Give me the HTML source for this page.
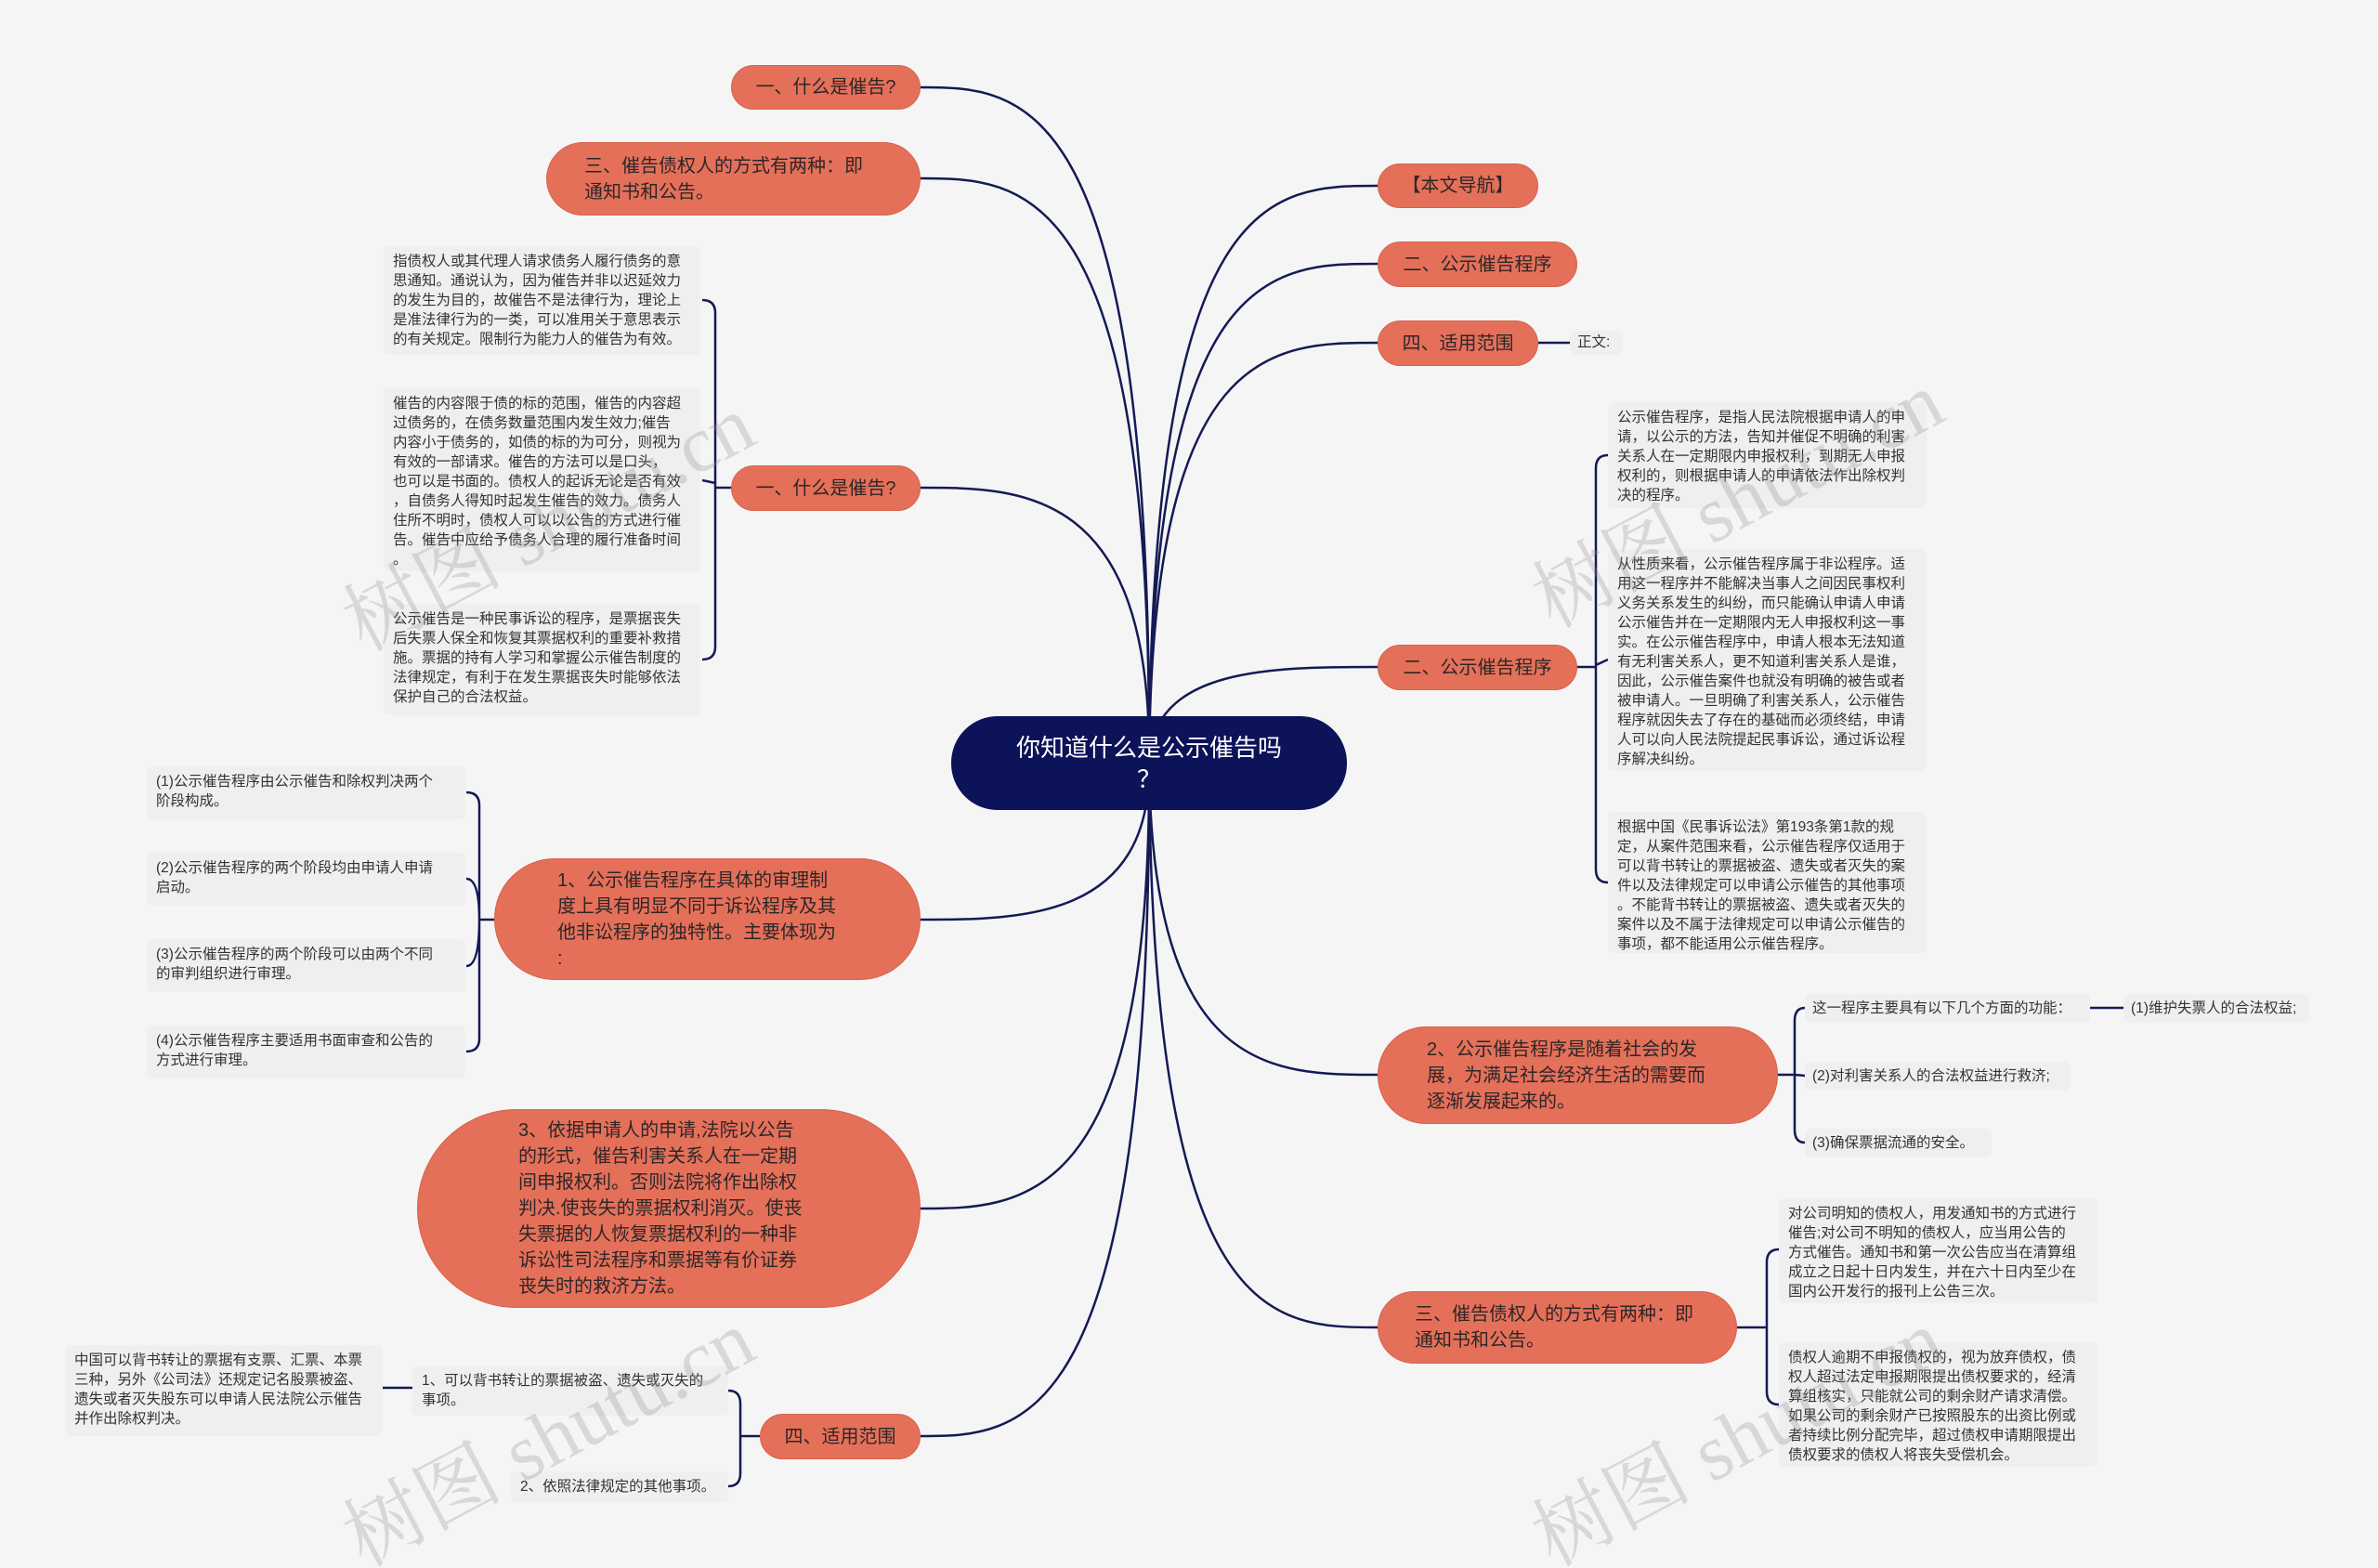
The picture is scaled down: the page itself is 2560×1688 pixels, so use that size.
<!DOCTYPE html>
<html><head><meta charset="utf-8">
<style>
html,body{margin:0;padding:0;width:2560px;height:1688px;overflow:hidden}
body{background:#f5f5f5;position:relative;font-family:"Liberation Sans","Noto Sans CJK SC",sans-serif}
.n{position:absolute;background:#e4705a;color:#2e2626;font-size:20px;line-height:28px;box-sizing:border-box;display:flex;align-items:center;white-space:nowrap;border:1px solid #d8624c}
.c{justify-content:center}
.t{position:absolute;background:#efefef;color:#333;font-size:15.5px;line-height:21px;box-sizing:border-box;padding:6px 10px;border-radius:6px;white-space:nowrap}
.wm{position:absolute;color:rgba(140,140,140,0.28);font-size:86px;font-family:"Liberation Serif","Noto Serif CJK SC",serif;transform:rotate(-28deg);white-space:nowrap;transform-origin:left top}
svg{position:absolute;left:0;top:0}
#wrap{position:absolute;left:0;top:0;width:2560px;height:1688px;overflow:hidden}
</style></head><body><div id="wrap">
<svg width="2560" height="1688" fill="none" stroke="#141a55" stroke-width="2.5">
<path d="M1237 821 C1240 94 1100 94 991 94"/>
<path d="M1237 821 C1240 192 1100 192 991 192"/>
<path d="M1237 821 C1240 525 1100 525 991 525"/>
<path d="M1237 821 C1240 990 1100 990 991 990"/>
<path d="M1237 821 C1240 1301 1100 1301 991 1301"/>
<path d="M1237 821 C1240 1546 1100 1546 991 1546"/>
<path d="M1237 821 C1240 200 1370 200 1483 200"/>
<path d="M1237 821 C1240 284 1370 284 1483 284"/>
<path d="M1237 821 C1240 369 1370 369 1483 369"/>
<path d="M1237 821 C1240 718 1370 718 1483 718"/>
<path d="M1237 821 C1240 1157 1370 1157 1483 1157"/>
<path d="M1237 821 C1240 1429 1370 1429 1483 1429"/>
<path d="M787 525 L770 525 M770 525 L770 337 Q770 323 756 323 M770 525 L770 696 Q770 710 756 710 M770 520 L756 517"/>
<path d="M1698 718 L1718 718 M1718 718 L1718 504 Q1718 490 1731 490 M1718 718 L1718 936 Q1718 950 1731 950 M1718 716 L1731 710"/>
<path d="M532 990 L516 990 M516 990 L516 867 Q516 853 502 853 M516 990 L516 1118 Q516 1132 502 1132 M516 990 Q516 946 502 946 M516 990 Q516 1040 502 1040"/>
<path d="M1914 1157 L1932 1157 M1932 1157 L1932 1099 Q1932 1085 1943 1085 M1932 1157 L1932 1216 Q1932 1230 1943 1230 M1932 1157 L1943 1158"/>
<path d="M2250 1085 L2286 1085"/>
<path d="M1870 1429 L1902 1429 M1902 1429 L1902 1359 Q1902 1345 1915 1345 M1902 1429 L1902 1498 Q1902 1512 1915 1512"/>
<path d="M818 1546 L797 1546 M797 1546 L797 1511 Q797 1497 784 1497 M797 1546 L797 1586 Q797 1600 784 1600"/>
<path d="M412 1494 L444 1494"/>
<path d="M1656 369 L1690 369"/>
</svg>

<div class="n c" style="left:1024px;top:771px;width:426px;height:101px;border-radius:50px;background:#0d1358;border-color:#0d1358;color:#fff;font-size:26px;line-height:34px;text-align:center;white-space:normal">你知道什么是公示催告吗<br>？</div>

<div class="n c" style="left:787px;top:70px;width:204px;height:48px;border-radius:24px">一、什么是催告?</div>
<div class="n" style="left:588px;top:153px;width:403px;height:79px;border-radius:40px;padding-left:40px">三、催告债权人的方式有两种：即<br>通知书和公告。</div>
<div class="n c" style="left:787px;top:501px;width:204px;height:49px;border-radius:25px">一、什么是催告?</div>
<div class="n" style="left:532px;top:924px;width:459px;height:131px;border-radius:65px;padding-left:67px">1、公示催告程序在具体的审理制<br>度上具有明显不同于诉讼程序及其<br>他非讼程序的独特性。主要体现为<br>:</div>
<div class="n" style="left:449px;top:1194px;width:542px;height:214px;border-radius:107px;padding-left:108px">3、依据申请人的申请,法院以公告<br>的形式，催告利害关系人在一定期<br>间申报权利。否则法院将作出除权<br>判决.使丧失的票据权利消灭。使丧<br>失票据的人恢复票据权利的一种非<br>诉讼性司法程序和票据等有价证券<br>丧失时的救济方法。</div>
<div class="n c" style="left:818px;top:1522px;width:173px;height:49px;border-radius:25px">四、适用范围</div>

<div class="n c" style="left:1483px;top:176px;width:173px;height:48px;border-radius:24px">【本文导航】</div>
<div class="n c" style="left:1483px;top:260px;width:215px;height:49px;border-radius:25px">二、公示催告程序</div>
<div class="n c" style="left:1483px;top:345px;width:173px;height:49px;border-radius:25px">四、适用范围</div>
<div class="n c" style="left:1483px;top:694px;width:215px;height:49px;border-radius:25px">二、公示催告程序</div>
<div class="n" style="left:1483px;top:1105px;width:431px;height:105px;border-radius:52px;padding-left:52px">2、公示催告程序是随着社会的发<br>展，为满足社会经济生活的需要而<br>逐渐发展起来的。</div>
<div class="n" style="left:1483px;top:1390px;width:387px;height:78px;border-radius:39px;padding-left:39px">三、催告债权人的方式有两种：即<br>通知书和公告。</div>

<div class="t" style="left:413px;top:265px;width:341px;height:117px">指债权人或其代理人请求债务人履行债务的意<br>思通知。通说认为，因为催告并非以迟延效力<br>的发生为目的，故催告不是法律行为，理论上<br>是准法律行为的一类，可以准用关于意思表示<br>的有关规定。限制行为能力人的催告为有效。</div>
<div class="t" style="left:413px;top:418px;width:341px;height:197px">催告的内容限于债的标的范围，催告的内容超<br>过债务的，在债务数量范围内发生效力;催告<br>内容小于债务的，如债的标的为可分，则视为<br>有效的一部请求。催告的方法可以是口头，<br>也可以是书面的。债权人的起诉无论是否有效<br>，自债务人得知时起发生催告的效力。债务人<br>住所不明时，债权人可以以公告的方式进行催<br>告。催告中应给予债务人合理的履行准备时间<br>。</div>
<div class="t" style="left:413px;top:650px;width:341px;height:120px">公示催告是一种民事诉讼的程序，是票据丧失<br>后失票人保全和恢复其票据权利的重要补救措<br>施。票据的持有人学习和掌握公示催告制度的<br>法律规定，有利于在发生票据丧失时能够依法<br>保护自己的合法权益。</div>

<div class="t" style="left:158px;top:825px;width:343px;height:57px">(1)公示催告程序由公示催告和除权判决两个<br>阶段构成。</div>
<div class="t" style="left:158px;top:918px;width:343px;height:57px">(2)公示催告程序的两个阶段均由申请人申请<br>启动。</div>
<div class="t" style="left:158px;top:1011px;width:343px;height:57px">(3)公示催告程序的两个阶段可以由两个不同<br>的审判组织进行审理。</div>
<div class="t" style="left:158px;top:1104px;width:343px;height:57px">(4)公示催告程序主要适用书面审查和公告的<br>方式进行审理。</div>

<div class="t" style="left:70px;top:1448px;width:342px;height:98px">中国可以背书转让的票据有支票、汇票、本票<br>三种，另外《公司法》还规定记名股票被盗、<br>遗失或者灭失股东可以申请人民法院公示催告<br>并作出除权判决。</div>
<div class="t" style="left:444px;top:1470px;width:340px;height:54px">1、可以背书转让的票据被盗、遗失或灭失的<br>事项。</div>
<div class="t" style="left:550px;top:1584px;width:234px;height:33px">2、依照法律规定的其他事项。</div>

<div class="t" style="left:1690px;top:356px;width:57px;height:26px;padding:2px 8px">正文:</div>
<div class="t" style="left:1731px;top:433px;width:343px;height:114px">公示催告程序，是指人民法院根据申请人的申<br>请，以公示的方法，告知并催促不明确的利害<br>关系人在一定期限内申报权利，到期无人申报<br>权利的，则根据申请人的申请依法作出除权判<br>决的程序。</div>
<div class="t" style="left:1731px;top:591px;width:343px;height:239px">从性质来看，公示催告程序属于非讼程序。适<br>用这一程序并不能解决当事人之间因民事权利<br>义务关系发生的纠纷，而只能确认申请人申请<br>公示催告并在一定期限内无人申报权利这一事<br>实。在公示催告程序中，申请人根本无法知道<br>有无利害关系人，更不知道利害关系人是谁，<br>因此，公示催告案件也就没有明确的被告或者<br>被申请人。一旦明确了利害关系人，公示催告<br>程序就因失去了存在的基础而必须终结，申请<br>人可以向人民法院提起民事诉讼，通过诉讼程<br>序解决纠纷。</div>
<div class="t" style="left:1731px;top:874px;width:343px;height:152px">根据中国《民事诉讼法》第193条第1款的规<br>定，从案件范围来看，公示催告程序仅适用于<br>可以背书转让的票据被盗、遗失或者灭失的案<br>件以及法律规定可以申请公示催告的其他事项<br>。不能背书转让的票据被盗、遗失或者灭失的<br>案件以及不属于法律规定可以申请公示催告的<br>事项，都不能适用公示催告程序。</div>

<div class="t" style="left:1943px;top:1070px;width:307px;height:31px;padding:5px 8px">这一程序主要具有以下几个方面的功能：</div>
<div class="t" style="left:2286px;top:1070px;width:200px;height:31px;padding:5px 8px">(1)维护失票人的合法权益;</div>
<div class="t" style="left:1943px;top:1143px;width:286px;height:31px;padding:5px 8px">(2)对利害关系人的合法权益进行救济;</div>
<div class="t" style="left:1943px;top:1215px;width:201px;height:31px;padding:5px 8px">(3)确保票据流通的安全。</div>

<div class="t" style="left:1915px;top:1290px;width:343px;height:113px">对公司明知的债权人，用发通知书的方式进行<br>催告;对公司不明知的债权人，应当用公告的<br>方式催告。通知书和第一次公告应当在清算组<br>成立之日起十日内发生，并在六十日内至少在<br>国内公开发行的报刊上公告三次。</div>
<div class="t" style="left:1915px;top:1445px;width:343px;height:134px">债权人逾期不申报债权的，视为放弃债权，债<br>权人超过法定申报期限提出债权要求的，经清<br>算组核实，只能就公司的剩余财产请求清偿。<br>如果公司的剩余财产已按照股东的出资比例或<br>者持续比例分配完毕，超过债权申请期限提出<br>债权要求的债权人将丧失受偿机会。</div>

<div class="wm" style="left:345px;top:615px">树图 shutu.cn</div>
<div class="wm" style="left:1625px;top:590px">树图 shutu.cn</div>
<div class="wm" style="left:345px;top:1600px">树图 shutu.cn</div>
<div class="wm" style="left:1625px;top:1600px">树图 shutu.cn</div>
</div></body></html>
